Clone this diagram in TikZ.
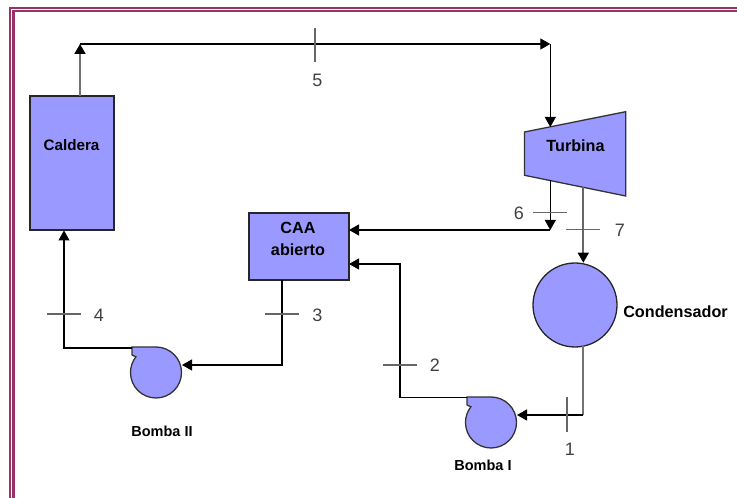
\documentclass[tikz,border=0pt]{standalone}
\usepackage{fontspec}
\setmainfont{Liberation Sans}
\usetikzlibrary{arrows.meta}
\definecolor{eqfill}{HTML}{9999FF}
\definecolor{framec}{HTML}{993366}
\tikzset{
  box/.style={draw=black!85,fill=eqfill,line width=1.3pt,inner sep=0pt,outer sep=0pt},
  equip/.style={draw=black!80,fill=eqfill,line width=1.3pt,line join=miter},
  flow/.style={draw=black,line width=1.2pt},
  flowa/.style={flow,-{Triangle[length=10pt,width=11pt,color=black]}},
  flowg/.style={draw=black!55,line width=1.8pt},
  tick/.style={draw=black!60,line width=1.3pt},
  eqname/.style={font=\fontsize{16.2}{18}\selectfont\bfseries,inner sep=0pt},
  statenum/.style={font=\fontsize{18}{20}\selectfont,text=black!75,inner sep=0pt},
  framel/.style={draw=framec,line width=2.2pt}
}
\begin{document}
\begin{tikzpicture}[x=1pt,y=1pt]
\useasboundingbox (0,0) rectangle (737,498);
% frame
\draw[framel] (737,490) -- (10,490) -- (10,0);
\draw[framel] (737,487) -- (13.4,487) -- (13.4,0);
% equipment
\node[box,minimum width=84pt,minimum height=134pt] (cald) at (72,335) {};
\node[box,minimum width=100pt,minimum height=67pt] (caa) at (299,251.5) {};
\draw[equip] (524.5,366) -- (625.7,386.3) -- (625.7,302) -- (524.5,322.7) -- cycle;
\node[box,circle,minimum size=84pt] (cond) at (575,193) {};
\draw[equip] (132,151) -- (156,151) arc[start angle=90,end angle=-218,radius=25.5] -- (132,143) -- cycle;
\draw[equip] (467,101) -- (491,101) arc[start angle=90,end angle=-218,radius=25.5] -- (467,93) -- cycle;
% named points
\coordinate (bt) at (80,402);
\coordinate (c1) at (80,454);
\coordinate (c2) at (550.3,454);
\coordinate (tin) at (550.3,371);
\coordinate (t6) at (550.3,318);
\coordinate (j6) at (550.3,268);
\coordinate (caa6) at (349,268);
\coordinate (t7) at (583.3,311);
\coordinate (cn7) at (583.3,235.3);
\coordinate (cn1) at (583.3,152);
\coordinate (c3) at (583.3,83);
\coordinate (p1in) at (517,83);
\coordinate (p1o) at (467,100.5);
\coordinate (c4) at (400,100.5);
\coordinate (c5) at (400,234);
\coordinate (caa2) at (349,234);
\coordinate (caab) at (282,218);
\coordinate (c6) at (282,133);
\coordinate (p2in) at (182,133);
\coordinate (p2o) at (132,150);
\coordinate (c7) at (64,150);
\coordinate (bb) at (64,267.5);
% connectors
\draw[flowa,draw=black!55,line width=1.8pt] (bt) -- (c1);
\draw[flowa] (c1) -- (c2);
\draw[flowa] (c2) -- (tin);
\draw[flowa] (t6) -- (j6);
\draw[flowa] (j6) -- (caa6);
\draw[flowa,draw=black!60,line width=1.8pt] (t7) -- (cn7);
\draw[flowg] (cn1) -- (c3);
\draw[flowa] (c3) -- (p1in);
\draw[flowa] (p1o) -- (c4) -- (c5) -- (caa2);
\draw[flowa] (caab) -- (c6) -- (p2in);
\draw[flowa] (p2o) -- (c7) -- (bb);
% ticks
\draw[tick] (315,470) -- (315,436);
\draw[tick] (533,285.3) -- (567,285.3);
\draw[tick] (566,268.5) -- (600,268.5);
\draw[tick] (567,101) -- (567,66);
\draw[tick] (383,133) -- (417,133);
\draw[tick] (265,184) -- (299,184);
\draw[tick] (47,184) -- (81,184);
% labels
\node[eqname,font=\fontsize{15.2}{17}\selectfont\bfseries] (lcald) at (71.5,353) {Caldera};
\node[eqname] (lturb) at (575.5,352) {Turbina};
\node[eqname] (lcaa) at (298,270) {CAA};
\node[eqname] (labi) at (298,248) {abierto};
\node[eqname] (lcond) at (675.5,186) {Condensador};
\node[eqname,font=\fontsize{14.5}{16}\selectfont\bfseries] (lb2) at (162,67) {Bomba II};
\node[eqname,font=\fontsize{14.5}{16}\selectfont\bfseries] (lb1) at (483,33) {Bomba I};
\node[statenum] (n5) at (317.5,418) {5};
\node[statenum] (n6) at (519,284.5) {6};
\node[statenum] (n7) at (620,268) {7};
\node[statenum] (n1) at (570,49) {1};
\node[statenum] (n2) at (435,133) {2};
\node[statenum] (n3) at (317.5,183) {3};
\node[statenum] (n4) at (99,183) {4};
\end{tikzpicture}
\end{document}
